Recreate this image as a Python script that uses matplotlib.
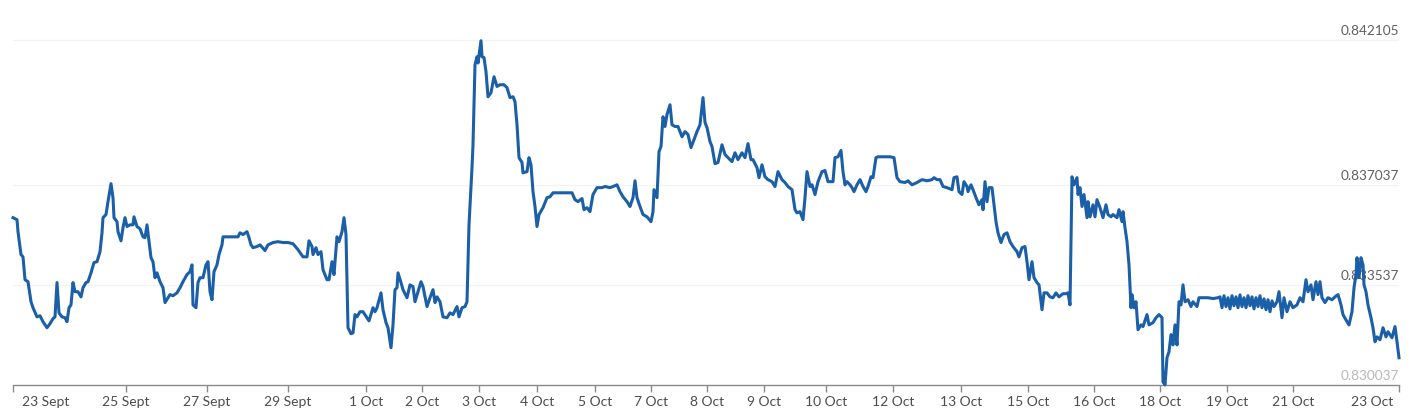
import numpy as np
import matplotlib.pyplot as plt

obs_a = [0, 4, 5, 8, 10, 12, 15, 18, 20, 24,
         27, 30, 34, 37, 40, 42, 44, 46, 49, 52,
         54, 56, 58, 60, 62, 65, 68, 70, 73, 75,
         78, 81, 84, 87, 89, 90, 93, 95, 98, 100,
         101, 104, 105, 108, 110, 112, 114, 117, 120, 121,
         124, 127, 130, 132, 134, 136, 138, 140, 142, 144,
         147, 150, 152, 155, 157, 160, 164, 167, 170, 174,
         177, 179, 180, 183, 185, 187, 190, 193, 195, 197,
         199, 201, 204, 206, 209, 210, 217, 225, 227, 230,
         234, 236, 238, 240, 244, 247, 252, 255, 260, 265,
         270, 275]
rate_a = [0.83589, 0.83582, 0.83540, 0.83460, 0.83452, 0.83372, 0.83365, 0.83295, 0.83274, 0.83242,
          0.83246, 0.83225, 0.83204, 0.83218, 0.83236, 0.83242, 0.83362, 0.83256, 0.83242, 0.83239,
          0.83225, 0.83274, 0.83284, 0.83362, 0.83330, 0.83330, 0.83312, 0.83344, 0.83362, 0.83365,
          0.83396, 0.83432, 0.83435, 0.83470, 0.83536, 0.83589, 0.83600, 0.83645, 0.83708, 0.83659,
          0.83589, 0.83575, 0.83540, 0.83508, 0.83554, 0.83589, 0.83558, 0.83564, 0.83564, 0.83592,
          0.83558, 0.83550, 0.83522, 0.83519, 0.83564, 0.83505, 0.83449, 0.83435, 0.83379, 0.83396,
          0.83365, 0.83344, 0.83292, 0.83309, 0.83320, 0.83316, 0.83326, 0.83344, 0.83365, 0.83390,
          0.83400, 0.83424, 0.83284, 0.83274, 0.83362, 0.83379, 0.83379, 0.83424, 0.83435, 0.83330,
          0.83302, 0.83400, 0.83424, 0.83460, 0.83494, 0.83522, 0.83522, 0.83522, 0.83536, 0.83530,
          0.83540, 0.83519, 0.83494, 0.83484, 0.83488, 0.83494, 0.83474, 0.83494, 0.83502, 0.83505,
          0.83502, 0.83502]

obs_b = [280, 285, 290, 294, 296, 299, 300, 303, 305, 308,
         310, 314, 316, 319, 321, 324, 326, 329, 331, 333,
         335, 338, 340, 342, 344, 347, 350, 354, 356, 360,
         362, 364, 368, 370, 373, 375, 378, 380, 382, 384,
         385, 388, 390, 394, 397, 400, 402, 405, 408, 410,
         414, 417, 420, 422, 424, 427, 430, 434, 437, 440,
         444, 446, 449, 452, 454, 456, 459, 460, 462, 464,
         465, 468, 469, 471, 473, 475, 478, 481, 484, 487,
         491, 494, 497, 500, 502, 504, 506, 509, 510, 514,
         516, 518, 520, 522, 524, 526, 530, 534, 537, 540,
         547, 554]
rate_b = [0.83498, 0.83477, 0.83452, 0.83452, 0.83508, 0.83488, 0.83460, 0.83484, 0.83460, 0.83470,
          0.83407, 0.83372, 0.83372, 0.83435, 0.83390, 0.83522, 0.83505, 0.83540, 0.83589, 0.83530,
          0.83204, 0.83183, 0.83186, 0.83250, 0.83242, 0.83260, 0.83260, 0.83239, 0.83228, 0.83274,
          0.83260, 0.83274, 0.83326, 0.83267, 0.83222, 0.83204, 0.83134, 0.83214, 0.83337, 0.83344,
          0.83396, 0.83362, 0.83337, 0.83309, 0.83354, 0.83348, 0.83295, 0.83330, 0.83365, 0.83348,
          0.83278, 0.83309, 0.83337, 0.83292, 0.83312, 0.83295, 0.83242, 0.83239, 0.83256, 0.83250,
          0.83278, 0.83242, 0.83274, 0.83278, 0.83295, 0.83564, 0.83764, 0.83844, 0.84124, 0.84152,
          0.84130, 0.84208, 0.84152, 0.84149, 0.84100, 0.84012, 0.84026, 0.84082, 0.84048, 0.84054,
          0.84054, 0.84044, 0.84009, 0.84012, 0.83995, 0.83914, 0.83799, 0.83782, 0.83746, 0.83750,
          0.83799, 0.83774, 0.83680, 0.83628, 0.83558, 0.83600, 0.83624, 0.83659, 0.83662, 0.83676,
          0.83676, 0.83676]

obs_c = [559, 562, 565, 569, 571, 574, 577, 580, 584, 589,
         592, 597, 600, 604, 607, 610, 614, 617, 620, 622,
         624, 627, 630, 634, 638, 640, 641, 644, 646, 648,
         650, 652, 654, 657, 659, 662, 665, 669, 672, 675,
         678, 681, 684, 687, 690, 692, 694, 697, 699, 702,
         705, 709, 712, 715, 719, 722, 725, 729, 732, 735,
         738, 740, 744, 746, 749, 752, 755, 759, 762, 765,
         769, 772, 775, 779, 782, 784, 787, 790, 792, 794,
         797, 799, 802, 805, 809, 812, 815, 820, 822, 825,
         828, 830, 832, 834, 837]
rate_c = [0.83676, 0.83652, 0.83645, 0.83656, 0.83617, 0.83624, 0.83610, 0.83670, 0.83694, 0.83694,
          0.83698, 0.83694, 0.83698, 0.83704, 0.83680, 0.83662, 0.83645, 0.83628, 0.83659, 0.83718,
          0.83659, 0.83628, 0.83600, 0.83592, 0.83575, 0.83610, 0.83687, 0.83659, 0.83820, 0.83838,
          0.83942, 0.83908, 0.83950, 0.83984, 0.83914, 0.83908, 0.83908, 0.83872, 0.83890, 0.83880,
          0.83834, 0.83862, 0.83890, 0.83914, 0.84009, 0.83922, 0.83904, 0.83855, 0.83838, 0.83778,
          0.83782, 0.83844, 0.83810, 0.83799, 0.83785, 0.83816, 0.83792, 0.83816, 0.83799, 0.83848,
          0.83792, 0.83792, 0.83764, 0.83729, 0.83774, 0.83732, 0.83722, 0.83715, 0.83698, 0.83750,
          0.83722, 0.83712, 0.83698, 0.83687, 0.83617, 0.83606, 0.83610, 0.83582, 0.83659, 0.83750,
          0.83698, 0.83704, 0.83670, 0.83715, 0.83750, 0.83754, 0.83715, 0.83715, 0.83799, 0.83802,
          0.83824, 0.83750, 0.83704, 0.83715, 0.83704]

obs_d = [839, 841, 844, 847, 850, 853, 855, 858, 860, 863,
         865, 870, 877, 881, 884, 887, 892, 895, 899, 904,
         909, 914, 919, 921, 924, 927, 930, 934, 939, 941,
         944, 946, 949, 951, 954, 955, 958, 960, 963, 966,
         969, 970, 972, 974, 976, 979, 981, 983, 985, 988,
         991, 994, 997, 1000, 1004, 1006, 1009, 1012, 1014, 1016,
         1019, 1021, 1024, 1026, 1029, 1031, 1034, 1037, 1040, 1043,
         1046, 1050, 1053, 1055, 1057]
rate_d = [0.83694, 0.83680, 0.83704, 0.83722, 0.83698, 0.83680, 0.83698, 0.83732, 0.83729, 0.83799,
          0.83802, 0.83802, 0.83802, 0.83799, 0.83729, 0.83715, 0.83712, 0.83718, 0.83704, 0.83712,
          0.83722, 0.83718, 0.83722, 0.83729, 0.83722, 0.83722, 0.83698, 0.83694, 0.83687, 0.83729,
          0.83732, 0.83680, 0.83670, 0.83715, 0.83698, 0.83680, 0.83704, 0.83687, 0.83659, 0.83634,
          0.83652, 0.83617, 0.83715, 0.83645, 0.83694, 0.83694, 0.83634, 0.83575, 0.83536, 0.83502,
          0.83530, 0.83536, 0.83505, 0.83488, 0.83470, 0.83452, 0.83484, 0.83488, 0.83435, 0.83372,
          0.83435, 0.83379, 0.83362, 0.83354, 0.83267, 0.83326, 0.83326, 0.83312, 0.83309, 0.83326,
          0.83312, 0.83323, 0.83323, 0.83326, 0.83284]

obs_e = [1059, 1061, 1064, 1065, 1067, 1069, 1071, 1074, 1075, 1077,
         1080, 1082, 1084, 1087, 1090, 1093, 1095, 1098, 1100, 1104,
         1106, 1109, 1110, 1112, 1114, 1116, 1118, 1119, 1121, 1123,
         1125, 1128, 1130, 1134, 1136, 1140, 1143, 1146, 1149, 1150,
         1152, 1154, 1156, 1158, 1160, 1162, 1164, 1166, 1168, 1170,
         1172, 1175, 1178, 1180, 1184, 1186, 1190, 1195, 1200, 1205]
rate_e = [0.83732, 0.83704, 0.83729, 0.83670, 0.83694, 0.83628, 0.83670, 0.83589, 0.83645, 0.83592,
          0.83634, 0.83592, 0.83652, 0.83624, 0.83589, 0.83634, 0.83600, 0.83592, 0.83600, 0.83589,
          0.83617, 0.83575, 0.83610, 0.83554, 0.83505, 0.83424, 0.83274, 0.83320, 0.83274, 0.83295,
          0.83197, 0.83214, 0.83208, 0.83250, 0.83214, 0.83222, 0.83239, 0.83250, 0.83239, 0.83015,
          0.83004, 0.83099, 0.83120, 0.83180, 0.83144, 0.83214, 0.83144, 0.83295, 0.83284, 0.83354,
          0.83295, 0.83302, 0.83278, 0.83295, 0.83278, 0.83309, 0.83309, 0.83309, 0.83306, 0.83309]

obs_f = [1207, 1209, 1211, 1213, 1215, 1217, 1219, 1221, 1223, 1225,
         1227, 1229, 1231, 1233, 1235, 1237, 1239, 1241, 1243, 1245,
         1247, 1249, 1251, 1253, 1255, 1257, 1259]
rate_f = [0.83312, 0.83274, 0.83316, 0.83278, 0.83309, 0.83270, 0.83316, 0.83281, 0.83312, 0.83274,
          0.83319, 0.83278, 0.83309, 0.83274, 0.83316, 0.83281, 0.83312, 0.83270, 0.83309, 0.83278,
          0.83316, 0.83274, 0.83305, 0.83267, 0.83302, 0.83260, 0.83298]

obs_g = [1261, 1264, 1266, 1269, 1271, 1274, 1277, 1280, 1284, 1287,
         1290, 1293, 1295, 1298, 1300, 1303, 1305, 1307, 1309, 1312,
         1315, 1319, 1322, 1325, 1328, 1330, 1334, 1336, 1339, 1341,
         1343, 1344, 1346, 1348, 1350, 1351, 1353, 1355, 1358, 1360,
         1362, 1364, 1367, 1370, 1373, 1375, 1379, 1382, 1384, 1386]
rate_g = [0.83278, 0.83295, 0.83330, 0.83239, 0.83309, 0.83260, 0.83295, 0.83274, 0.83284, 0.83309,
          0.83295, 0.83372, 0.83330, 0.83354, 0.83302, 0.83365, 0.83320, 0.83365, 0.83309, 0.83292,
          0.83309, 0.83302, 0.83312, 0.83320, 0.83284, 0.83250, 0.83225, 0.83214, 0.83260, 0.83344,
          0.83390, 0.83449, 0.83379, 0.83449, 0.83424, 0.83354, 0.83330, 0.83284, 0.83239, 0.83204,
          0.83155, 0.83172, 0.83162, 0.83204, 0.83172, 0.83190, 0.83169, 0.83208, 0.83155, 0.83099]

tick_obs = [0, 113, 194, 275, 353, 409, 466, 524, 582, 638, 694,
            751, 813, 880, 948, 1015, 1081, 1147, 1214, 1280, 1386]
tick_labels = ['23 Sept', '25 Sept', '27 Sept', '29 Sept', '1 Oct', '2 Oct', '3 Oct',
               '4 Oct', '5 Oct', '7 Oct', '8 Oct', '9 Oct', '10 Oct', '12 Oct',
               '13 Oct', '15 Oct', '16 Oct', '18 Oct', '19 Oct', '21 Oct', '23 Oct']
levels = [0.830037, 0.833537, 0.837037, 0.842105]

obs = np.concatenate([obs_a, obs_b, obs_c, obs_d, obs_e, obs_f, obs_g])
rate = np.concatenate([rate_a, rate_b, rate_c, rate_d, rate_e, rate_f, rate_g])
assert len(obs) == len(rate)

plt.rcParams['font.family'] = ['Lato', 'DejaVu Sans']

W, H = 1417, 419
fig = plt.figure(figsize=(W / 100, H / 100), dpi=100)
ax = fig.add_axes([13 / W, 34 / H, 1386 / W, 355 / H])

ax.set_xlim(0, 1386)
ax.set_ylim(0.830037, 0.830037 + 355 * 0.012068 / 345)

for v in levels[1:]:
    ax.axhline(v, color='#f3f3f3', lw=0.9, zorder=0)

ax.plot(obs, rate, color='#1a5fa8', lw=2.2, solid_joinstyle='round', clip_on=False, zorder=3)

# right-hand value labels sit just above their gridlines
for v in levels:
    col = '#b8b8b8' if v == levels[0] else '#606060'
    ax.annotate(f'{v:.6f}', xy=(1, v), xycoords=('axes fraction', 'data'),
                xytext=(0, 3), textcoords='offset pixels', ha='right', va='bottom',
                fontsize=9.8, color=col, zorder=2)

for s in ['top', 'left', 'right']:
    ax.spines[s].set_visible(False)
ax.spines['bottom'].set_color('#8a8a8a')
ax.spines['bottom'].set_linewidth(1.0)
ax.set_yticks([])

shown = [''] + tick_labels[1:-1] + ['']
ax.set_xticks(tick_obs, shown)
ax.tick_params(axis='x', direction='out', length=5, width=1.0, color='#8a8a8a',
               labelsize=10, labelcolor='#4d4d4d', pad=3)

# first and last labels are pulled inside the axis ends
ax.annotate(tick_labels[0], xy=(0, 0), xycoords='axes fraction', xytext=(9, -11),
            textcoords='offset pixels', ha='left', va='top', fontsize=10, color='#4d4d4d')
ax.annotate(tick_labels[-1], xy=(1, 0), xycoords='axes fraction', xytext=(-6, -11),
            textcoords='offset pixels', ha='right', va='top', fontsize=10, color='#4d4d4d')

fig.savefig('out.png', dpi=100)
